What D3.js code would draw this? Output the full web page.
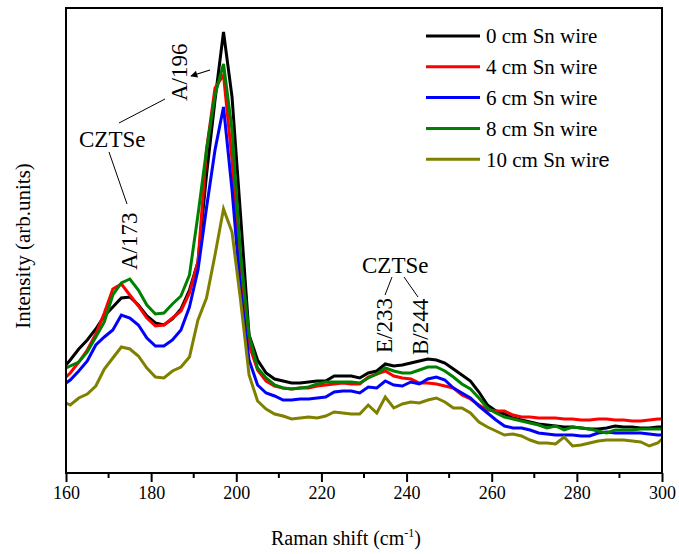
<!DOCTYPE html>
<html>
<head>
<meta charset="utf-8">
<script src="https://cdn.jsdelivr.net/npm/d3@7"></script>
<style>
  body { margin: 0; background: #fff; }
  text { font-family: "Liberation Serif", "Times New Roman", serif; fill: #000; }
</style>
</head>
<body>
<div id="chart"></div>
<script>
// Raman shift positions (cm-1)
const ramanShift = [160, 161, 163, 165, 167, 169, 171, 173, 175, 177, 179, 181, 183, 185, 187, 189, 191, 193, 195, 197, 199,
  201, 203, 205, 207, 209, 211, 213, 215, 217, 219, 221, 223, 225, 227, 229, 231, 233, 235, 237, 239,
  241, 243, 245, 247, 249, 251, 253, 255, 257, 259, 261, 263, 265, 267, 269, 271, 273, 275, 277, 279,
  281, 283, 285, 287, 289, 291, 293, 295, 297, 299, 300];

// intensities (arb. units)
const sn0 = [108, 113, 124, 133, 144, 157, 166, 175, 176, 168, 157, 150, 148, 154, 164, 183, 211, 298, 373, 441, 376,
  258, 138, 113, 100, 94, 92, 90, 90, 91, 92, 92, 97, 97, 97, 95, 100, 102, 109, 107, 108,
  110, 112, 114, 113, 110, 104, 98, 92, 81, 68, 62, 59, 55, 53, 51, 49, 48, 47, 46, 46,
  45, 44, 44, 45, 47, 46, 46, 45, 45, 46, 46];
const sn4 = [96, 100, 111, 123, 139, 160, 184, 189, 178, 167, 155, 147, 148, 155, 162, 180, 211, 323, 385, 398, 313,
  193, 128, 103, 92, 87, 85, 84, 85, 85, 87, 88, 89, 90, 89, 89, 96, 99, 102, 97, 95,
  94, 90, 90, 89, 87, 85, 78, 74, 68, 63, 62, 62, 58, 56, 56, 55, 55, 55, 54, 54,
  53, 53, 54, 54, 53, 53, 52, 52, 53, 54, 54];
const sn6 = [90, 93, 102, 112, 128, 136, 143, 158, 155, 148, 135, 127, 127, 133, 143, 166, 203, 265, 323, 366, 283,
  183, 113, 88, 80, 77, 73, 73, 74, 74, 75, 76, 81, 82, 82, 80, 86, 85, 92, 88, 87,
  91, 89, 94, 96, 93, 85, 80, 75, 67, 60, 53, 47, 45, 45, 43, 40, 39, 38, 38, 38,
  37, 37, 40, 41, 40, 40, 40, 40, 39, 38, 38];
const sn8 = [105, 107, 111, 121, 136, 151, 178, 190, 194, 183, 168, 159, 160, 169, 177, 198, 258, 323, 378, 409, 343,
  218, 138, 105, 95, 88, 85, 84, 85, 86, 89, 91, 91, 91, 91, 90, 95, 99, 105, 102, 100,
  100, 103, 106, 106, 102, 96, 89, 84, 75, 65, 60, 56, 54, 52, 50, 48, 45, 47, 43, 46,
  45, 44, 42, 40, 43, 43, 43, 44, 44, 44, 44];
const sn10 = [70, 68, 75, 79, 87, 104, 115, 126, 124, 117, 105, 96, 95, 102, 106, 116, 153, 175, 218, 264, 241,
  173, 98, 72, 64, 59, 57, 54, 55, 56, 55, 57, 61, 60, 59, 59, 68, 60, 76, 65, 69,
  71, 70, 73, 75, 71, 65, 65, 60, 51, 46, 42, 38, 39, 37, 33, 30, 30, 29, 36, 27,
  28, 30, 32, 33, 33, 33, 32, 31, 27, 30, 34];

const seriesNames = ["0 cm Sn wire", "4 cm Sn wire", "6 cm Sn wire", "8 cm Sn wire", "10 cm Sn wire"];
const seriesValues = [sn0, sn4, sn6, sn8, sn10];
const seriesColors = ["#000000", "#ff0000", "#0000ff", "#008000", "#808000"];

const xTicks = [160, 180, 200, 220, 240, 260, 280, 300];
const xMinorTicks = [170, 190, 210, 230, 250, 270, 290];

const width = 679;
const height = 554;
const margin = { top: 8, right: 17, bottom: 81, left: 66 };

const x = d3.scaleLinear().domain([160, 300]).range([margin.left, width - margin.right]);
const y = d3.scaleLinear().domain([0, 465]).range([height - margin.bottom, margin.top]);

const svg = d3.select("#chart")
  .append("svg")
    .attr("width", width)
    .attr("height", height)
    .attr("viewBox", [0, 0, width, height]);

// curves
const line = d3.line()
  .x((d, i) => x(ramanShift[i]))
  .y(d => y(d));

svg.append("g")
  .selectAll("path")
  .data(seriesValues)
  .join("path")
    .attr("fill", "none")
    .attr("stroke", (d, i) => seriesColors[i])
    .attr("stroke-width", 3)
    .attr("stroke-linejoin", "miter")
    .attr("d", line);

// frame
svg.append("rect")
  .attr("x", margin.left)
  .attr("y", margin.top)
  .attr("width", width - margin.left - margin.right)
  .attr("height", height - margin.top - margin.bottom)
  .attr("fill", "none")
  .attr("stroke", "#000")
  .attr("stroke-width", 2);

// bottom axis with major + minor ticks
const xAxis = svg.append("g")
  .attr("transform", `translate(0,${height - margin.bottom})`)
  .call(d3.axisBottom(x).tickValues(xTicks).tickSize(9).tickPadding(4).tickFormat(d3.format("d")));
xAxis.select(".domain").remove();
xAxis.selectAll(".tick line").attr("stroke-width", 2);
xAxis.selectAll(".tick text")
  .attr("font-family", "Liberation Serif")
  .attr("font-size", 18);

svg.append("g")
  .selectAll("line")
  .data(xMinorTicks)
  .join("line")
    .attr("x1", d => x(d))
    .attr("x2", d => x(d))
    .attr("y1", height - margin.bottom)
    .attr("y2", height - margin.bottom + 5)
    .attr("stroke", "#000")
    .attr("stroke-width", 2);

// axis titles
const xTitle = svg.append("text")
  .attr("x", 346)
  .attr("y", 545)
  .attr("text-anchor", "middle")
  .attr("font-size", 20);
xTitle.append("tspan").text("Raman shift (cm");
xTitle.append("tspan").attr("font-size", 12).attr("dy", -8).text("-1");
xTitle.append("tspan").attr("dy", 8).text(")");

svg.append("text")
  .attr("transform", "translate(30,246) rotate(-90)")
  .attr("text-anchor", "middle")
  .attr("font-size", 21)
  .text("Intensity (arb.units)");

// legend
const legend = svg.append("g")
  .selectAll("g")
  .data(seriesNames)
  .join("g")
    .attr("transform", (d, i) => `translate(426,${36 + i * 30.8})`);
legend.append("line")
  .attr("x1", 0).attr("x2", 54)
  .attr("stroke", (d, i) => seriesColors[i])
  .attr("stroke-width", 3);
const legendText = legend.append("text")
  .attr("x", 60)
  .attr("dy", "0.35em")
  .attr("font-size", 21);
legendText.append("tspan").text((d, i) => i === 4 ? d.slice(0, -1) : d);
legendText.filter((d, i) => i === 4)
  .append("tspan")
    .attr("font-family", "Liberation Sans")
    .attr("font-size", 20)
    .text("e");

// peak annotations
const ann = svg.append("g");
ann.append("text").attr("x", 79).attr("y", 147).attr("font-size", 23).text("CZTSe");
ann.append("line").attr("x1", 119).attr("y1", 123).attr("x2", 165).attr("y2", 99)
  .attr("stroke", "#000").attr("stroke-width", 1);
ann.append("line").attr("x1", 109).attr("y1", 152).attr("x2", 127).attr("y2", 204)
  .attr("stroke", "#000").attr("stroke-width", 1);

const rotated = [
  { label: "A/196", x: 187, y: 101 },
  { label: "A/173", x: 137, y: 270 },
  { label: "E/233", x: 392, y: 353 },
  { label: "B/244", x: 428, y: 355 }
];
ann.selectAll(".rot")
  .data(rotated)
  .join("text")
    .attr("class", "rot")
    .attr("transform", d => `translate(${d.x},${d.y}) rotate(-90)`)
    .attr("font-size", 23)
    .text(d => d.label);

ann.append("text").attr("x", 362).attr("y", 273).attr("font-size", 23).text("CZTSe");
ann.append("line").attr("x1", 392).attr("y1", 277).attr("x2", 385).attr("y2", 295)
  .attr("stroke", "#000").attr("stroke-width", 1);
ann.append("line").attr("x1", 404).attr("y1", 277).attr("x2", 418).attr("y2", 297)
  .attr("stroke", "#000").attr("stroke-width", 1);

// arrow to the 196 peak
svg.append("defs").append("marker")
  .attr("id", "arrow")
  .attr("viewBox", "0 0 10 10")
  .attr("refX", 9).attr("refY", 5)
  .attr("markerWidth", 9).attr("markerHeight", 7)
  .attr("markerUnits", "userSpaceOnUse")
  .attr("orient", "auto")
  .append("path")
    .attr("d", "M0,0L10,5L0,10z")
    .attr("fill", "#000");
ann.append("line").attr("x1", 210).attr("y1", 70).attr("x2", 191).attr("y2", 76)
  .attr("stroke", "#000").attr("stroke-width", 1.2)
  .attr("marker-end", "url(#arrow)");
</script>
</body>
</html>
